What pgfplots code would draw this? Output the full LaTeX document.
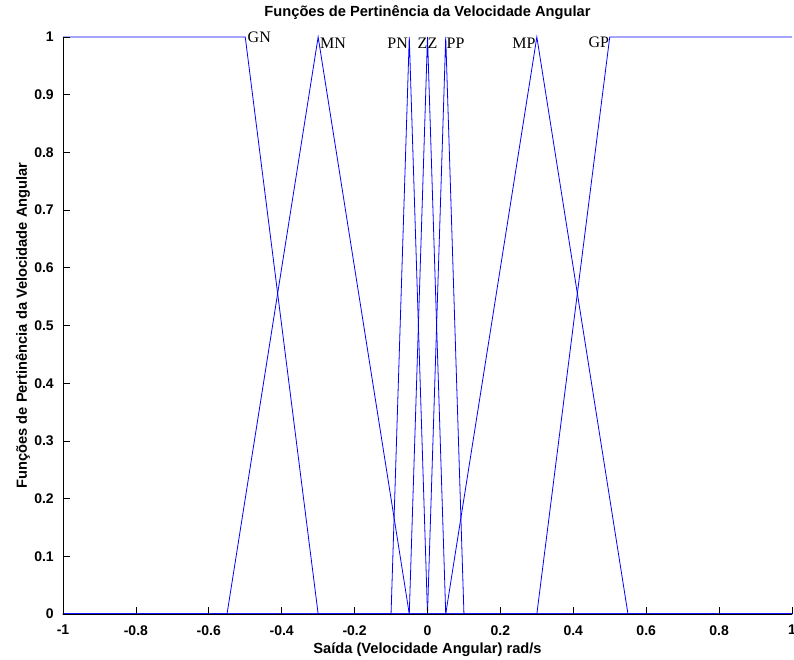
\documentclass[border=0pt]{standalone}
\usepackage{fontspec}
\setmainfont{Liberation Serif}
\setsansfont{Liberation Sans}
\usepackage{pgfplots}
\pgfplotsset{compat=1.18}
\definecolor{mfblue}{RGB}{0,0,255}
\begin{document}
\begin{tikzpicture}
\begin{axis}[
  scale only axis,
  width=546.75pt, height=432.75pt,
  at={(0,0)}, anchor=south west,
  xmin=-1, xmax=1, ymin=0, ymax=1,
  axis x line=bottom, axis y line=left,
  axis line style={-, black, line width=0.6pt},
  tick align=inside,
  major tick length=5.5pt,
  tick style={black, line width=0.5pt},
  xtick={-1,-0.8,-0.6,-0.4,-0.2,0,0.2,0.4,0.6,0.8,1},
  xticklabels={-1,-0.8,-0.6,-0.4,-0.2,0,0.2,0.4,0.6,0.8,1},
  ytick={0,0.1,0.2,0.3,0.4,0.5,0.6,0.7,0.8,0.9,1},
  yticklabels={0,0.1,0.2,0.3,0.4,0.5,0.6,0.7,0.8,0.9,1},
  /pgf/number format/assume math mode=true,
  xticklabel style={font=\sffamily\bfseries\fontsize{10.5}{12}\selectfont, anchor=north, inner sep=0pt, yshift=-8.25pt},
  yticklabel style={font=\sffamily\bfseries\fontsize{10.5}{12}\selectfont, anchor=east, inner sep=0pt, xshift=-6.75pt},
  title={Funções de Pertinência da Velocidade Angular},
  title style={font=\sffamily\bfseries\fontsize{11}{13}\selectfont, at={([yshift=9.5pt]axis description cs:0.5,1)}, anchor=base, inner sep=0pt},
  xlabel={Saída (Velocidade Angular) rad/s},
  xlabel style={font=\sffamily\bfseries\fontsize{11}{13}\selectfont, at={([yshift=-29.5pt]axis description cs:0.5,0)}, anchor=base, inner sep=0pt},
  ylabel={Funções de Pertinência da Velocidade Angular},
  ylabel style={font=\sffamily\bfseries\fontsize{11}{13}\selectfont, at={([xshift=-27pt]axis description cs:0,0.5)}, anchor=base, inner sep=0pt},
  clip=false,
  axis on top,
]
% GN
\addplot[mfblue, line width=0.6pt, mark=none] coordinates {(-1,1) (-0.5,1) (-0.3,0) (1,0)};
% MN
\addplot[mfblue, line width=0.6pt, mark=none] coordinates {(-1,0) (-0.55,0) (-0.3,1) (-0.05,0) (1,0)};
% PN
\addplot[mfblue, line width=0.6pt, mark=none] coordinates {(-1,0) (-0.1,0) (-0.05,1) (0,0) (1,0)};
% ZZ
\addplot[mfblue, line width=0.6pt, mark=none] coordinates {(-1,0) (-0.05,0) (0,1) (0.05,0) (1,0)};
% PP
\addplot[mfblue, line width=0.6pt, mark=none] coordinates {(-1,0) (0,0) (0.05,1) (0.1,0) (1,0)};
% MP
\addplot[mfblue, line width=0.6pt, mark=none] coordinates {(-1,0) (0.05,0) (0.3,1) (0.55,0) (1,0)};
% GP
\addplot[mfblue, line width=0.6pt, mark=none] coordinates {(-1,0) (0.3,0) (0.5,1) (1,1)};
\begin{scope}[every node/.style={inner sep=0pt, font=\fontsize{12}{14}\selectfont}]
\node[anchor=west] at (axis cs:-0.494,1) {GN};
\node[anchor=west] at (axis cs:-0.295,0.99) {MN};
\node[anchor=east] at (axis cs:-0.053,0.99) {PN};
\node[anchor=center] at (axis cs:0,0.99) {ZZ};
\node[anchor=west] at (axis cs:0.052,0.99) {PP};
\node[anchor=east] at (axis cs:0.297,0.99) {MP};
\node[anchor=east] at (axis cs:0.499,0.99) {GP};
\end{scope}
\end{axis}
\pgfresetboundingbox
\useasboundingbox (-47.25pt,-34.5pt) rectangle (548.25pt,460.5pt);
\end{tikzpicture}
\end{document}
